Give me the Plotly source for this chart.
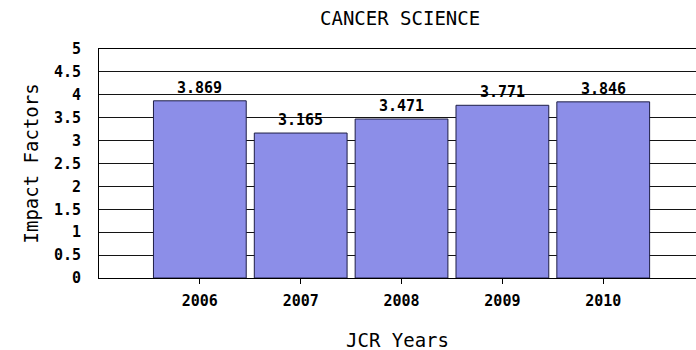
import plotly.graph_objects as go

years = ["2006", "2007", "2008", "2009", "2010"]
impact = [3.869, 3.165, 3.471, 3.771, 3.846]
labels = ["3.869", "3.165", "3.471", "3.771", "3.846"]
y_ticks = [0, 0.5, 1, 1.5, 2, 2.5, 3, 3.5, 4, 4.5, 5]
y_tick_text = ["0", "0.5", "1", "1.5", "2", "2.5", "3", "3.5", "4", "4.5", "5"]

FONT = "DejaVu Sans Mono"

fig = go.Figure()
fig.add_trace(go.Bar(
    x=list(range(len(years))), y=impact, width=0.92,
    marker=dict(color="rgb(140,142,232)", line=dict(color="rgb(30,30,70)", width=1)),
    hoverinfo="skip",
))

annotations = []
for i, (v, t) in enumerate(zip(impact, labels)):
    annotations.append(dict(x=i, y=v, xref="x", yref="y", text=t, showarrow=False,
                            yanchor="middle", yshift=13,
                            font=dict(family=FONT, size=15, color="black", weight="bold")))
annotations.append(dict(x=0.5, y=1, xref="paper", yref="paper", text="CANCER SCIENCE",
                        showarrow=False, yanchor="middle", yshift=31, xshift=2,
                        font=dict(family=FONT, size=19, color="black")))
annotations.append(dict(x=0.5, y=0, xref="paper", yref="paper", text="JCR Years",
                        showarrow=False, yanchor="middle", yshift=-62, xshift=0,
                        font=dict(family=FONT, size=19, color="black")))
annotations.append(dict(x=0, y=0.5, xref="paper", yref="paper", text="Impact Factors",
                        showarrow=False, textangle=-90, xanchor="center", yanchor="middle",
                        xshift=-69, font=dict(family=FONT, size=19, color="black")))

fig.update_layout(
    width=696, height=350,
    margin=dict(l=99, r=0, t=49, b=72),
    paper_bgcolor="white", plot_bgcolor="white",
    showlegend=False,
    annotations=annotations,
    xaxis=dict(
        range=[-1, 4.92], tickmode="array", tickvals=list(range(len(years))), ticktext=years,
        showgrid=False, zeroline=False, showline=True, linecolor="black", linewidth=1,
        mirror=True,
        ticks="outside", ticklen=5, tickcolor="black", ticklabelstandoff=4,
        tickfont=dict(family=FONT, size=15, color="black", weight="bold"),
        fixedrange=True,
    ),
    yaxis=dict(
        range=[0, 5], tickmode="array", tickvals=y_ticks, ticktext=y_tick_text,
        showgrid=True, gridcolor="rgb(20,20,20)", gridwidth=1,
        zeroline=False, showline=True, linecolor="black", linewidth=1,
        ticks="", ticklabelstandoff=14,
        tickfont=dict(family=FONT, size=15, color="black", weight="bold"),
        fixedrange=True,
    ),
)

fig.write_html("out.html")
